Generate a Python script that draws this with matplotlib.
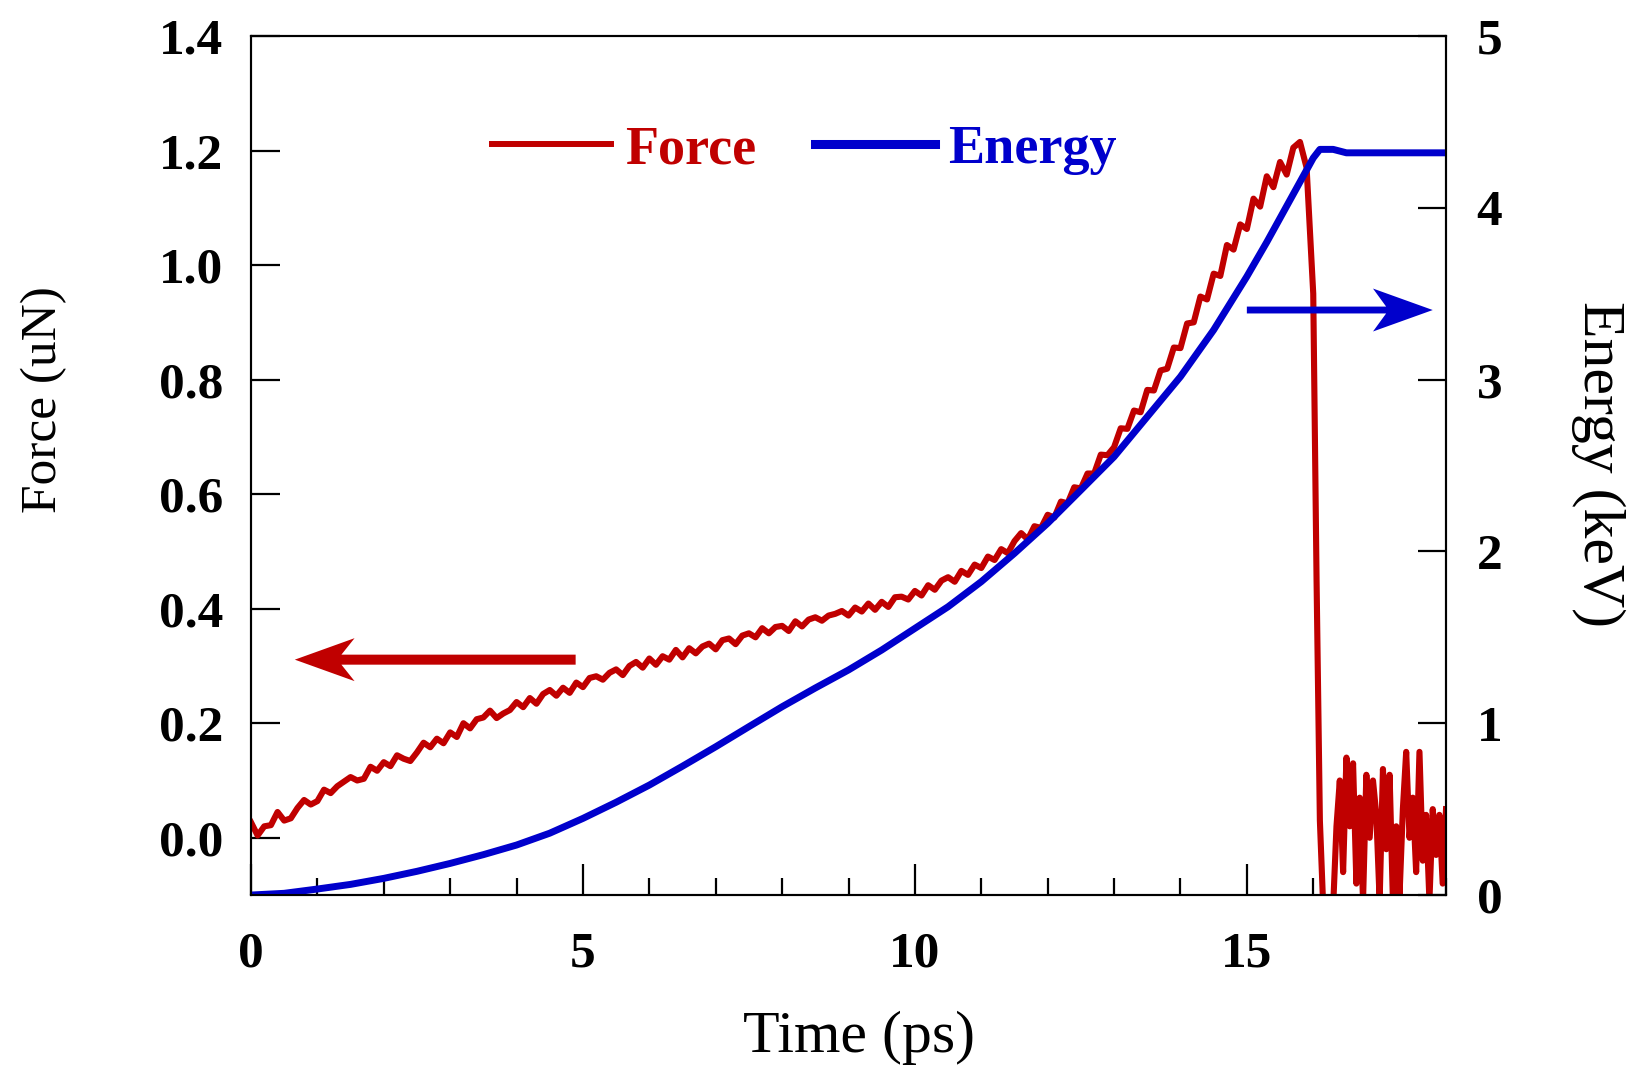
import numpy as np
import matplotlib
matplotlib.use("Agg")
import matplotlib.pyplot as plt
from matplotlib.lines import Line2D

plt.rcParams["font.family"] = ["Liberation Serif", "DejaVu Serif"]

# force (uN) sampled every 0.1 ps from 0 to 15.9 ps
force_vals = [
    0.027, 0.004, 0.020, 0.022, 0.045, 0.030, 0.034, 0.052, 0.066, 0.058,
    0.064, 0.084, 0.078, 0.090, 0.098, 0.106, 0.100, 0.103, 0.124, 0.117,
    0.132, 0.125, 0.144, 0.138, 0.134, 0.149, 0.166, 0.158, 0.173, 0.165,
    0.184, 0.176, 0.200, 0.191, 0.207, 0.210, 0.222, 0.209, 0.217, 0.223,
    0.237, 0.228, 0.244, 0.234, 0.251, 0.258, 0.248, 0.262, 0.253, 0.271,
    0.263, 0.279, 0.282, 0.276, 0.288, 0.294, 0.284, 0.300, 0.307, 0.297,
    0.313, 0.302, 0.317, 0.311, 0.328, 0.315, 0.331, 0.322, 0.334, 0.339,
    0.329, 0.345, 0.348, 0.338, 0.353, 0.357, 0.350, 0.366, 0.357, 0.368,
    0.370, 0.361, 0.378, 0.369, 0.381, 0.385, 0.379, 0.388, 0.391, 0.396,
    0.388, 0.402, 0.395, 0.409, 0.398, 0.412, 0.403, 0.420, 0.421, 0.416,
    0.431, 0.423, 0.441, 0.433, 0.449, 0.455, 0.447, 0.466, 0.459, 0.477,
    0.471, 0.491, 0.485, 0.504, 0.497, 0.518, 0.532, 0.521, 0.544, 0.541,
    0.564, 0.559, 0.587, 0.584, 0.612, 0.610, 0.636, 0.636, 0.669, 0.668,
    0.682, 0.715, 0.714, 0.746, 0.743, 0.782, 0.781, 0.816, 0.819, 0.856,
    0.855, 0.898, 0.900, 0.945, 0.940, 0.985, 0.981, 1.035, 1.027, 1.071,
    1.063, 1.116, 1.102, 1.155, 1.136, 1.180, 1.158, 1.205, 1.215, 1.170,
]
force_t = list(np.round(np.arange(0, 16.0, 0.1), 1))

# break and post-fracture noise, every 0.05 ps
tail_t = [16.0, 16.05, 16.1, 16.15, 16.2, 16.25, 16.3,
          16.35, 16.4, 16.45, 16.5, 16.55, 16.6, 16.65, 16.7, 16.75, 16.8,
          16.85, 16.9, 16.95, 17.0, 17.05, 17.1, 17.15, 17.2, 17.25, 17.3,
          17.35, 17.4, 17.45, 17.5, 17.55, 17.6, 17.65, 17.7, 17.75, 17.8,
          17.85, 17.9, 17.95, 18.0]
tail_vals = [0.95, 0.45, 0.03, -0.12, -0.12, -0.12, -0.12,
             0.02, 0.10, -0.06, 0.14, 0.02, 0.13, -0.08, 0.07, -0.11, 0.11,
             0.00, 0.10, 0.04, -0.11, 0.12, -0.02, 0.11, -0.11, 0.02, -0.10,
             0.05, 0.15, 0.00, 0.07, -0.06, 0.15, -0.04, 0.04, -0.11, 0.05,
             -0.03, 0.04, -0.08, 0.05]

energy_t = [0, 0.5, 1, 1.5, 2, 2.5, 3, 3.5, 4, 4.5, 5, 5.5, 6, 6.5, 7, 7.5,
            8, 8.5, 9, 9.5, 10, 10.5, 11, 11.5, 12, 12.5, 13, 13.5, 14, 14.5,
            15, 15.3, 15.6, 15.8, 16.0, 16.1, 16.3, 16.5, 18]
energy_vals = [0.0, 0.01, 0.035, 0.062, 0.097, 0.138, 0.184, 0.235, 0.291,
               0.36, 0.446, 0.54, 0.64, 0.75, 0.863, 0.98, 1.096, 1.205, 1.31,
               1.426, 1.552, 1.678, 1.824, 1.989, 2.164, 2.357, 2.551, 2.784,
               3.017, 3.289, 3.60, 3.80, 4.01, 4.15, 4.29, 4.34, 4.34, 4.32,
               4.32]

red = "#C00000"
blue = "#0000CC"

fig = plt.figure(figsize=(16.33, 10.71), dpi=100)
ax = fig.add_axes([0.1537, 0.1643, 0.7318, 0.8021])
ax2 = ax.twinx()

ax.plot(force_t + tail_t, force_vals + tail_vals, color=red, lw=4.4)
ax2.plot(energy_t, energy_vals, color=blue, lw=5)

ax.set_xlim(0, 18)
ax.set_ylim(-0.1, 1.4)
ax2.set_ylim(0, 5)

ax.set_xticks([0, 5, 10, 15])
ax.set_xticks(range(0, 19), minor=True)
ax.set_yticks(np.round(np.arange(0, 1.41, 0.2), 1))
ax.set_yticklabels(["%.1f" % v for v in np.arange(0, 1.41, 0.2)])
ax2.set_yticks(range(0, 6))

for a in (ax, ax2):
    for s in a.spines.values():
        s.set_linewidth(1.5)

ax.tick_params(axis="x", which="major", direction="in", length=22, width=1.6,
               pad=26, labelsize=37, top=False)
ax.tick_params(axis="x", which="minor", direction="in", length=12, width=1.6,
               top=False)
ax.tick_params(axis="y", direction="in", length=21, width=1.6, pad=20,
               labelsize=37, right=False)
ax2.tick_params(axis="y", direction="in", length=20, width=1.6, pad=22,
                labelsize=37)
for lab in ax.get_xticklabels() + ax.get_yticklabels() + ax2.get_yticklabels():
    lab.set_fontweight("bold")

# direction arrows
ax.arrow(4.89, 0.311, -4.23, 0, width=0.0175, head_width=0.075,
         head_length=0.9, overhang=0.22, length_includes_head=True,
         color=red, lw=0)
ax2.arrow(15.0, 3.405, 2.8, 0, width=0.04, head_width=0.25,
          head_length=0.9, overhang=0.22, length_includes_head=True,
          color=blue, lw=0)

handles = [Line2D([], [], color=red, lw=4.3), Line2D([], [], color=blue, lw=6.5)]
ax.legend(handles, ["Force", "Energy"], ncol=2, frameon=False,
          loc="center left", bbox_to_anchor=(0.2017, 0.867), borderpad=0,
          borderaxespad=0, handlelength=2.2, handletextpad=0.25,
          columnspacing=1.1, labelcolor="linecolor",
          prop={"family": "Liberation Serif", "weight": "bold", "size": 39})

fig.text(0.526, 0.031, "Time (ps)", ha="center", va="center", fontsize=43)
fig.text(0.027, 0.627, "Force (uN)", ha="center", va="center", fontsize=37,
         rotation=90)
fig.text(0.9785, 0.567, "Energy (keV)", ha="center", va="center", fontsize=43,
         rotation=-90)

fig.savefig("out.png", dpi=100)
